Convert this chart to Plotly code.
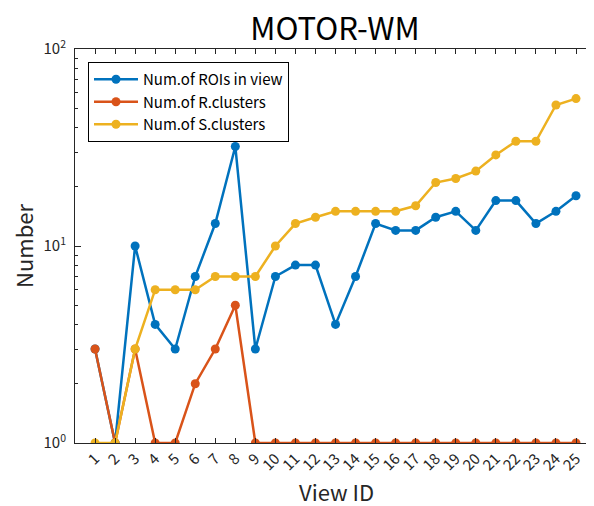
import plotly.graph_objects as go

view_ids = list(range(1, 26))
tick_labels = [str(i) for i in view_ids]
rois_in_view = [3, 1, 10, 4, 3, 7, 13, 32, 3, 7, 8, 8, 4, 7, 13, 12, 12, 14, 15, 12, 17, 17, 13, 15, 18]
r_clusters = [3, 1, 3, 1, 1, 2, 3, 5, 1, 1, 1, 1, 1, 1, 1, 1, 1, 1, 1, 1, 1, 1, 1, 1, 1]
s_clusters = [1, 1, 3, 6, 6, 6, 7, 7, 7, 10, 13, 14, 15, 15, 15, 15, 16, 21, 22, 24, 29, 34, 34, 52, 56]

series = [
    ("Num.of ROIs in view", rois_in_view, "#0072BD"),
    ("Num.of R.clusters", r_clusters, "#D95319"),
    ("Num.of S.clusters", s_clusters, "#EDB120"),
]

FONT = "Noto Sans CJK JP"
AX = "#262626"

# page has an 8px body margin; figure is sized to fit the 594x506 window
W, H = 586, 498
ML, MT = 67, 41
PW = W - ML          # plot width (right margin 0)
PB = 435             # plot bottom in figure px
PH = PB - MT

fig = go.Figure()
for name, vals, col in series:
    fig.add_trace(go.Scatter(
        x=view_ids, y=vals, name=name, mode="lines+markers",
        line=dict(color=col, width=2.5),
        marker=dict(color=col, size=9),
    ))

minor_vals = [m * 10 ** e for e in (0, 1) for m in range(2, 10)]

fig.update_layout(
    width=W, height=H,
    margin=dict(l=ML, r=0, t=MT, b=H - PB, autoexpand=False),
    paper_bgcolor="white", plot_bgcolor="white",
    font=dict(family=FONT, color=AX, size=14),
    title=dict(text="MOTOR-WM", x=327 / W, xanchor="center", y=1 - 21 / H,
               yanchor="middle", font=dict(size=31, color="black", family=FONT)),
    showlegend=True,
    legend=dict(x=13 / PW, y=1 - 13 / PH, xanchor="left", yanchor="top",
                bordercolor="black", borderwidth=1, bgcolor="white",
                font=dict(size=15, color="black", family=FONT),
                tracegroupgap=0, itemwidth=44),
    annotations=[
        dict(text="Number", xref="paper", yref="paper", x=-52 / PW, y=0.5,
             xanchor="center", yanchor="middle", textangle=-90, showarrow=False,
             font=dict(size=22, color=AX, family=FONT)),
        dict(text="View ID", xref="paper", yref="paper", x=(328 - ML) / PW,
             y=(PB - 483) / PH, xanchor="center", yanchor="middle", showarrow=False,
             font=dict(size=22, color=AX, family=FONT)),
    ],
)

fig.update_xaxes(
    range=[0, PW / 20.04], automargin=False,
    tickmode="array", tickvals=view_ids, ticktext=tick_labels,
    tickangle=-45, ticks="inside", ticklen=5, tickcolor=AX,
    showline=True, linecolor=AX, linewidth=1, mirror="ticks",
    showgrid=False, zeroline=False,
    tickfont=dict(size=15, color=AX),
)

fig.update_yaxes(
    type="log", range=[0, 2], automargin=False,
    tickmode="array", tickvals=[1, 10, 100],
    ticktext=["10<sup>0</sup>", "10<sup>1</sup>", "10<sup>2</sup>"],
    ticks="inside", ticklen=6, tickcolor=AX,
    minor=dict(tickvals=minor_vals, ticks="inside", ticklen=3, tickcolor=AX, showgrid=False),
    showline=True, linecolor=AX, linewidth=1, mirror="ticks",
    showgrid=False, zeroline=False, ticklabelstandoff=5,
    tickfont=dict(size=15, color=AX),
)

fig.write_html("out.html")
